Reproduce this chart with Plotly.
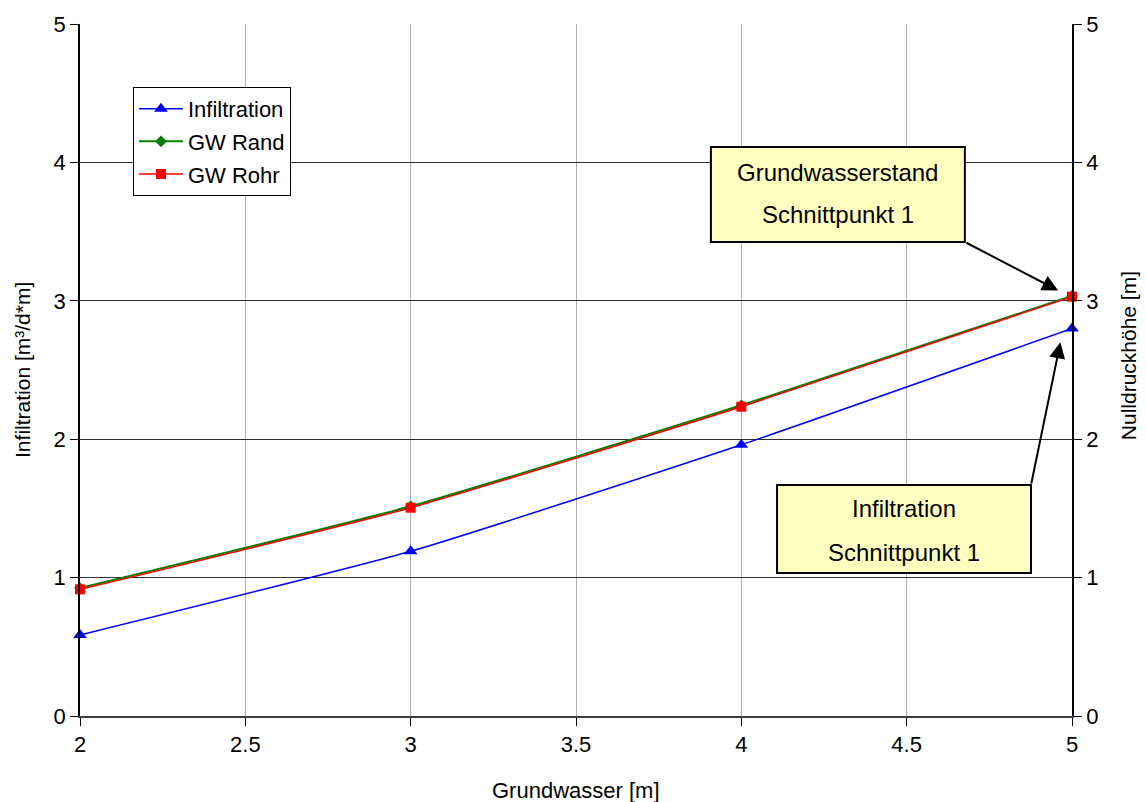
import plotly.graph_objects as go

x_vals = [2, 3, 4, 5]
infiltration = [0.585, 1.19, 1.96, 2.80]
gw_rand = [0.925, 1.515, 2.245, 3.035]
gw_rohr = [0.915, 1.505, 2.235, 3.03]

x_ticks = [2, 2.5, 3, 3.5, 4, 4.5, 5]
y_ticks = [0, 1, 2, 3, 4, 5]

FONT = "Liberation Sans, Arial, sans-serif"

fig = go.Figure()
fig.add_trace(go.Scatter(x=x_vals, y=infiltration, name="Infiltration", mode="lines+markers",
                         legendgroup="a", cliponaxis=False,
                         line=dict(color="#0000ff", width=1.5, shape="spline", smoothing=0.5),
                         marker=dict(symbol="triangle-up", size=12, color="#0000ff")))
fig.add_trace(go.Scatter(x=x_vals, y=gw_rand, name="GW Rand", mode="lines+markers",
                         legendgroup="b", cliponaxis=False,
                         line=dict(color="#008000", width=2, shape="spline", smoothing=0.5),
                         marker=dict(symbol="diamond", size=9, color="#008000")))
fig.add_trace(go.Scatter(x=x_vals, y=gw_rohr, name="GW Rohr", mode="lines+markers",
                         legendgroup="c", cliponaxis=False,
                         line=dict(color="#ff0000", width=1.5, shape="spline", smoothing=0.5),
                         marker=dict(symbol="square", size=10, color="#ff0000")))
# invisible trace for secondary axis
fig.add_trace(go.Scatter(x=[2, 5], y=[0, 5], yaxis="y2", mode="markers",
                         marker=dict(opacity=0), showlegend=False, hoverinfo="skip"))

fig.update_layout(
    width=1146, height=802,
    margin=dict(l=80, r=74, t=24, b=86, autoexpand=False),
    plot_bgcolor="white", paper_bgcolor="white",
    font=dict(family=FONT, size=22, color="black"),
    xaxis=dict(range=[2, 5], tickvals=x_ticks, ticktext=[str(v) for v in x_ticks],
               showgrid=True, gridcolor="#b0b0b0", gridwidth=1,
               showline=True, linecolor="#404040", linewidth=2,
               ticks="outside", ticklen=8, tickcolor="black",
               automargin=False, zeroline=False, tickfont=dict(size=22)),
    yaxis=dict(range=[0, 5], tickvals=y_ticks,
               showgrid=True, gridcolor="#303030", gridwidth=1,
               showline=True, linecolor="black", linewidth=1.5,
               ticks="outside", ticklen=8, tickcolor="black",
               automargin=False, zeroline=False, tickfont=dict(size=22)),
    yaxis2=dict(range=[0, 5], tickvals=y_ticks, overlaying="y", side="right",
                showgrid=False, showline=True, linecolor="black", linewidth=1.5,
                ticks="outside", ticklen=8, tickcolor="black",
                automargin=False, zeroline=False, tickfont=dict(size=22)),
    legend=dict(x=0.0534, y=0.909, xanchor="left", yanchor="top",
                bgcolor="white", bordercolor="black", borderwidth=1,
                font=dict(size=22), tracegroupgap=1, itemwidth=44),
    showlegend=True,
)

# Axis titles
fig.add_annotation(x=0.5, y=-0.107, xref="paper", yref="paper", text="Grundwasser [m]",
                   showarrow=False, font=dict(size=22), xanchor="center", yanchor="middle")
fig.add_annotation(x=-0.0585, y=0.5, xref="paper", yref="paper", text="Infiltration [m³/d*m]",
                   showarrow=False, font=dict(size=21), textangle=-90,
                   xanchor="center", yanchor="middle")
fig.add_annotation(x=1.0565, y=0.52, xref="paper", yref="paper", text="Nulldruckhöhe [m]",
                   showarrow=False, font=dict(size=21), textangle=-90,
                   xanchor="center", yanchor="middle")

# Callout boxes
boxes = [
    dict(x0=3.908, x1=4.676, y0=3.425, y1=4.111,
         lines=["Grundwasserstand", "Schnittpunkt 1"], ly=[3.93, 3.625],
         tail=(4.676, 3.425), head=(4.958, 3.075)),
    dict(x0=4.108, x1=4.876, y0=1.033, y1=1.669,
         lines=["Infiltration", "Schnittpunkt 1"], ly=[1.5, 1.185],
         tail=(4.876, 1.669), head=(4.965, 2.70)),
]
for b in boxes:
    fig.add_shape(type="rect", xref="x", yref="y", x0=b["x0"], x1=b["x1"], y0=b["y0"], y1=b["y1"],
                  fillcolor="#ffffc0", line=dict(color="black", width=2), layer="above")
    xc = (b["x0"] + b["x1"]) / 2
    for txt, yy in zip(b["lines"], b["ly"]):
        fig.add_annotation(x=xc, y=yy, xref="x", yref="y", text=txt, showarrow=False,
                           font=dict(size=24, color="black", family=FONT))
    fig.add_annotation(x=b["head"][0], y=b["head"][1], xref="x", yref="y",
                       ax=b["tail"][0], ay=b["tail"][1], axref="x", ayref="y",
                       text="", showarrow=True, arrowhead=2, arrowsize=1.6,
                       arrowwidth=2, arrowcolor="black")

fig.write_html("out.html")
